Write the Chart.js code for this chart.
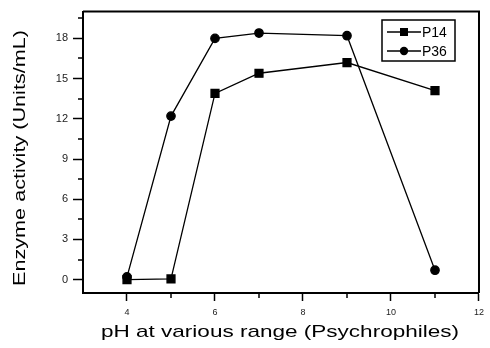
<!DOCTYPE html>
<html>
<head>
<meta charset="utf-8">
<script src="https://cdn.jsdelivr.net/npm/chart.js@4"></script>
<style>
  html, body { margin: 0; padding: 0; background: #fff; }
  #wrap { width: 490px; height: 348px; }
</style>
</head>
<body>
<div id="wrap"><canvas id="chart" width="490" height="348"></canvas></div>
<script>
// values
const phValues = [4, 5, 6, 7, 9, 11];
const p14Values = [0, 0.05, 13.9, 15.4, 16.2, 14.1];
const p36Values = [0.2, 12.2, 18.0, 18.4, 18.2, 0.7];
const seriesNames = ['P14', 'P36'];

const xTickValues = [4, 5, 6, 7, 8, 9, 10, 11, 12];
const xTickLabels = ['4', '', '6', '', '8', '', '10', '', '12'];
const yTickValues = [0, 1.5, 3, 4.5, 6, 7.5, 9, 10.5, 12, 13.5, 15, 16.5, 18, 19.5];
const yTickLabels = ['0', '', '3', '', '6', '', '9', '', '12', '', '15', '', '18', ''];

const xTitle = 'pH at various range (Psychrophiles)';
const yTitle = 'Enzyme activity (Units/mL)';

const FONT = "'Liberation Sans', Arial, sans-serif";

function toPoints(xs, ys) {
  return xs.map((x, i) => ({ x, y: ys[i] }));
}

// the original titles are drawn a bit wider than the font, so stretch them
function stretchedText(ctx, text, x, y, width, angle) {
  ctx.save();
  ctx.translate(x, y);
  ctx.rotate(angle);
  const w = ctx.measureText(text).width;
  ctx.scale(width / w, 1);
  ctx.fillText(text, -w / 2, 0);
  ctx.restore();
}

// top/right frame, minor ticks, titles, legend box
const framePlugin = {
  id: 'frame',
  afterDraw(chart) {
    const { ctx, chartArea: a, scales } = chart;
    ctx.save();
    ctx.strokeStyle = '#000';
    ctx.lineWidth = 2;
    ctx.beginPath();
    ctx.moveTo(a.left, a.top);
    ctx.lineTo(a.right, a.top);
    ctx.lineTo(a.right, a.bottom);
    ctx.stroke();

    // minor ticks
    ctx.lineWidth = 1.5;
    ctx.beginPath();
    xTickValues.forEach((v, i) => {
      if (xTickLabels[i] !== '') return;
      const px = Math.round(scales.x.getPixelForValue(v));
      ctx.moveTo(px, a.bottom);
      ctx.lineTo(px, a.bottom + 5);
    });
    yTickValues.forEach((v, i) => {
      if (yTickLabels[i] !== '') return;
      const py = Math.round(scales.y.getPixelForValue(v));
      ctx.moveTo(a.left, py);
      ctx.lineTo(a.left - 5, py);
    });
    ctx.stroke();

    // axis titles
    ctx.fillStyle = '#000';
    ctx.font = '17px ' + FONT;
    ctx.textBaseline = 'alphabetic';
    stretchedText(ctx, xTitle, (a.left + a.right) / 2 - 1, 337, 358, 0);
    stretchedText(ctx, yTitle, 25, 158, 256, -Math.PI / 2);

    // legend
    const bx = 382, by = 20, bw = 73, bh = 41;
    ctx.lineWidth = 1.5;
    ctx.strokeRect(bx, by, bw, bh);
    ctx.font = '14px ' + FONT;
    ctx.textBaseline = 'middle';
    chart.data.datasets.forEach((ds, i) => {
      const y = by + 12 + i * 19;
      ctx.lineWidth = 1.3;
      ctx.beginPath();
      ctx.moveTo(bx + 5, y);
      ctx.lineTo(bx + 39, y);
      ctx.stroke();
      ctx.beginPath();
      if (ds.pointStyle === 'rect') {
        ctx.rect(bx + 18, y - 4, 8, 8);
      } else {
        ctx.arc(bx + 22, y, 4.2, 0, Math.PI * 2);
      }
      ctx.fill();
      ctx.fillText(ds.label, bx + 40, y + 1);
    });
    ctx.restore();
  }
};

const ctx = document.getElementById('chart');
new Chart(ctx.getContext('2d'), {
  type: 'scatter',
  data: {
    datasets: [{
      label: seriesNames[0],
      data: toPoints(phValues, p14Values),
      showLine: true,
      borderColor: '#000',
      backgroundColor: '#000',
      borderWidth: 1.3,
      pointStyle: 'rect',
      pointRadius: 5.6,
      pointHoverRadius: 5.6
    }, {
      label: seriesNames[1],
      data: toPoints(phValues, p36Values),
      showLine: true,
      borderColor: '#000',
      backgroundColor: '#000',
      borderWidth: 1.3,
      pointStyle: 'circle',
      pointRadius: 4.2,
      pointHoverRadius: 4.2
    }]
  },
  options: {
    responsive: false,
    animation: false,
    layout: { padding: { top: 11, right: 5, left: 0, bottom: 0 } },
    plugins: {
      legend: { display: false },
      tooltip: { enabled: false }
    },
    scales: {
      x: {
        type: 'linear',
        min: 3,
        max: 12,
        afterBuildTicks: (axis) => { axis.ticks = xTickValues.map((v) => ({ value: v })); },
        afterFit: (axis) => { axis.height = 55; },
        border: { display: true, color: '#000', width: 2 },
        grid: {
          drawOnChartArea: false,
          drawTicks: true,
          tickLength: 8,
          tickWidth: 1.5,
          tickColor: (c) => (xTickLabels[c.index] ? '#000' : 'rgba(0,0,0,0)')
        },
        ticks: {
          autoSkip: false,
          maxRotation: 0,
          padding: 6,
          color: '#222',
          font: { family: FONT, size: 9 },
          callback: (v, i) => xTickLabels[i]
        },
        title: { display: false }
      },
      y: {
        type: 'linear',
        min: -1,
        max: 20,
        afterBuildTicks: (axis) => { axis.ticks = yTickValues.map((v) => ({ value: v })); },
        afterFit: (axis) => { axis.width = 83; },
        border: { display: true, color: '#000', width: 2 },
        grid: {
          drawOnChartArea: false,
          drawTicks: true,
          tickLength: 10,
          tickWidth: 1.5,
          tickColor: (c) => (yTickLabels[c.index] ? '#000' : 'rgba(0,0,0,0)')
        },
        ticks: {
          autoSkip: false,
          padding: 5,
          color: '#222',
          font: { family: FONT, size: 11 },
          callback: (v, i) => yTickLabels[i]
        },
        title: { display: false }
      }
    }
  },
  plugins: [framePlugin]
});
</script>
</body>
</html>
